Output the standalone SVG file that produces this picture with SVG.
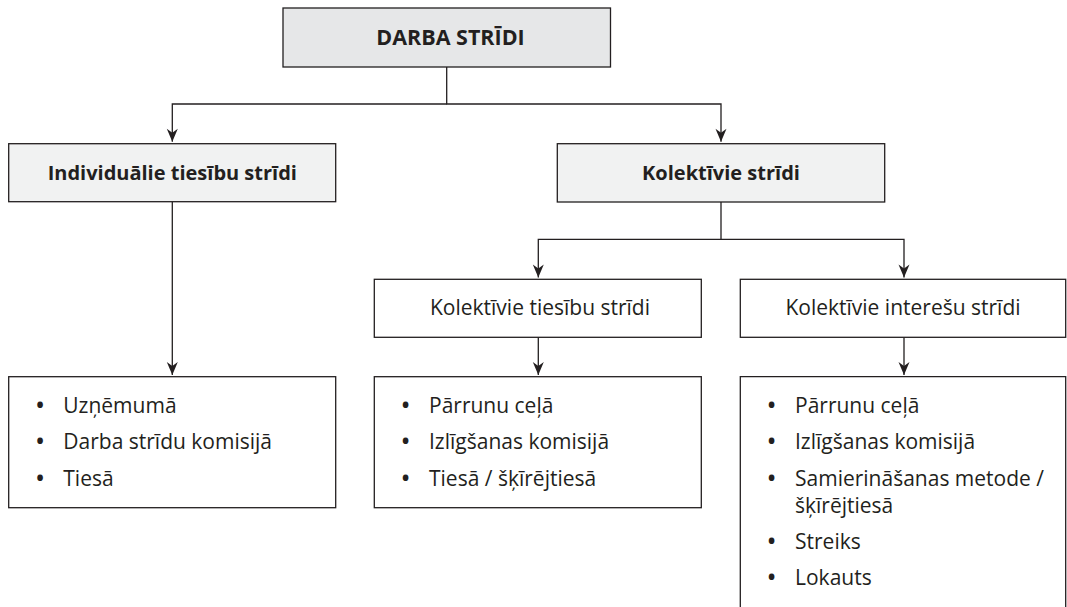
<svg xmlns="http://www.w3.org/2000/svg" width="1067" height="607" viewBox="0 0 1067 607">
  <style>
    .box { stroke: #231f20; stroke-width: 1.3; fill: #ffffff; }
    .top { fill: #e6e7e8; }
    .lvl1 { fill: #f1f2f2; }
    .t { font-family: "Open Sans", "Liberation Sans", sans-serif; fill: #231f20; font-size: 21px; }
    .b { font-weight: bold; font-size: 20px; }
    .tb { font-size: 21.5px; }
    .c { text-anchor: middle; }
    .bul { font-size: 27px; }
    .conn { stroke: #231f20; stroke-width: 1.3; fill: none; }
  </style>
  <defs>
    <marker id="arr" markerUnits="userSpaceOnUse" markerWidth="16" markerHeight="14" viewBox="-14 -7 16 14" refX="0" refY="0" orient="auto">
      <path d="M0,0 L-13,-5.5 L-9,0 L-13,5.5 Z" fill="#231f20"/>
    </marker>
  </defs>
  <rect width="1067" height="607" fill="#ffffff"/>

  <g id="connectors">
    <path class="conn" d="M446.7,67 V104 H721 V141.7" marker-end="url(#arr)"/>
    <path class="conn" d="M446.7,104 H172.3 V141.7" marker-end="url(#arr)"/>
    <path class="conn" d="M172.3,201.7 V375" marker-end="url(#arr)"/>
    <path class="conn" d="M721,202 V239.3 H904 V277.5" marker-end="url(#arr)"/>
    <path class="conn" d="M721,239.3 H538.3 V277.5" marker-end="url(#arr)"/>
    <path class="conn" d="M538.3,337.3 V375" marker-end="url(#arr)"/>
    <path class="conn" d="M904,337.3 V375" marker-end="url(#arr)"/>
  </g>

  <g id="darba-stridi">
    <rect class="box top" x="283" y="8" width="327.5" height="59"/>
    <text class="t b tb c" x="450.5" y="44.5">DARBA STRĪDI</text>
  </g>

  <g id="individualie">
    <rect class="box lvl1" x="8.7" y="143.7" width="327" height="58"/>
    <text class="t b c" x="172.3" y="179.5">Individuālie tiesību strīdi</text>
  </g>

  <g id="kolektivie">
    <rect class="box lvl1" x="557.3" y="143.7" width="327.4" height="58.3"/>
    <text class="t b c" x="721" y="179.5">Kolektīvie strīdi</text>
  </g>

  <g id="kolektivie-tiesibu">
    <rect class="box" x="374.3" y="279.3" width="327" height="58"/>
    <text class="t c" x="540" y="315">Kolektīvie tiesību strīdi</text>
  </g>

  <g id="kolektivie-interesu">
    <rect class="box" x="740.3" y="279.3" width="325.4" height="58"/>
    <text class="t c" x="903" y="315">Kolektīvie interešu strīdi</text>
  </g>

  <g id="ind-list">
    <rect class="box" x="8.7" y="376.7" width="327" height="131"/>
    <text class="t bul" x="35" y="415">•</text>
    <text class="t" x="63.3" y="413">Uzņēmumā</text>
    <text class="t bul" x="35" y="451.3">•</text>
    <text class="t" x="63.3" y="449.3">Darba strīdu komisijā</text>
    <text class="t bul" x="35" y="487.6">•</text>
    <text class="t" x="63.3" y="485.6">Tiesā</text>
  </g>

  <g id="tiesibu-list">
    <rect class="box" x="374.3" y="376.7" width="327" height="131"/>
    <text class="t bul" x="400.6" y="415">•</text>
    <text class="t" x="429" y="413">Pārrunu ceļā</text>
    <text class="t bul" x="400.6" y="451.3">•</text>
    <text class="t" x="429" y="449.3">Izlīgšanas komisijā</text>
    <text class="t bul" x="400.6" y="487.6">•</text>
    <text class="t" x="429" y="485.6">Tiesā / šķīrējtiesā</text>
  </g>

  <g id="interesu-list">
    <path class="box" d="M740.3,620 V376.7 H1065.7 V620"/>
    <text class="t bul" x="766.6" y="415">•</text>
    <text class="t" x="795" y="413">Pārrunu ceļā</text>
    <text class="t bul" x="766.6" y="451.3">•</text>
    <text class="t" x="795" y="449.3">Izlīgšanas komisijā</text>
    <text class="t bul" x="766.6" y="487.6">•</text>
    <text class="t" x="795" y="485.6">Samierināšanas metode /</text>
    <text class="t" x="795" y="512.8">šķīrējtiesā</text>
    <text class="t bul" x="766.6" y="551">•</text>
    <text class="t" x="795" y="549">Streiks</text>
    <text class="t bul" x="766.6" y="587.3">•</text>
    <text class="t" x="795" y="585.3">Lokauts</text>
  </g>
</svg>
